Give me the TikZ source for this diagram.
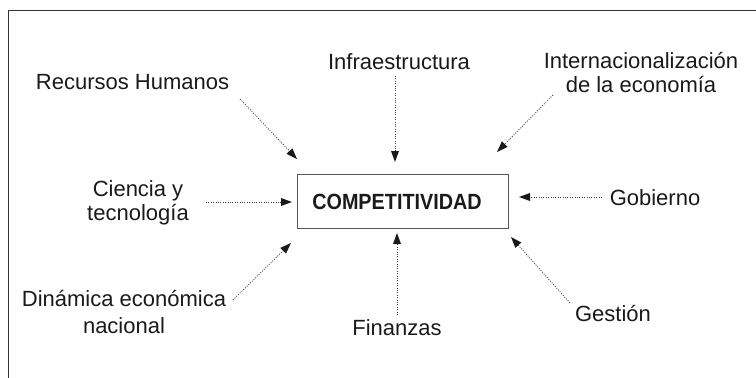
\documentclass[tikz,border=0pt]{standalone}
\usepackage{fontspec}
\usepackage{graphicx}
\setmainfont{Liberation Sans}
\usetikzlibrary{arrows.meta}
\definecolor{txt}{HTML}{1A1A1A}
\definecolor{frm}{HTML}{333333}
\tikzset{
  lbl/.style={font=\fontsize{22}{24}\selectfont, text=txt, align=center, inner sep=0pt},
  conn/.style={draw=black!75, line width=0.8pt, dash pattern=on 1pt off 1.4pt,
    -{Triangle[length=11pt,width=8pt,fill=black!90,line width=0pt]}},
  mainbox/.style={draw=black!65, line width=1pt, minimum width=211pt, minimum height=54pt, inner sep=0pt}
}
\begin{document}
\begin{tikzpicture}[x=1pt,y=-1pt]
\useasboundingbox (0,0) rectangle (756,378);
% frame
\draw[frm, line width=1pt] (8,378) -- (8,10) -- (756,10);
% central box
\node[mainbox] (comp) at (402.5,201) {};
\node[font=\fontsize{22}{24}\selectfont\bfseries, text=txt, inner sep=0pt, anchor=base] (comptext) at (397,209) {\scalebox{0.9}[1]{COMPETITIVIDAD}};
% labels (base anchor = baseline of last line)
\node[lbl, anchor=base] (rh) at (132.5,89) {Recursos Humanos};
\node[lbl, anchor=base] (inf) at (399,69) {Infraestructura};
\node[lbl, anchor=base] (int) at (641,92) {Internacionalización\\de la economía};
\node[lbl, anchor=base] (cyt) at (138,220) {Ciencia y\\tecnología};
\node[lbl, anchor=base] (gob) at (655,205) {Gobierno};
\node[lbl, anchor=base, font=\fontsize{22}{27}\selectfont] (din) at (124,333) {Dinámica económica\\nacional};
\node[lbl, anchor=base] (fin) at (397,335) {Finanzas};
\node[lbl, anchor=base] (ges) at (613,321) {Gestión};
% connector endpoints
\coordinate (rhA) at (240,99);  \coordinate (rhB) at (297,159);
\coordinate (infA) at (395,76); \coordinate (infB) at (395,162);
\coordinate (intA) at (553,95); \coordinate (intB) at (497,152);
\coordinate (cytA) at (206,202); \coordinate (cytB) at (292,202);
\coordinate (gobA) at (602,197); \coordinate (gobB) at (519,197);
\coordinate (dinA) at (233,300); \coordinate (dinB) at (291,243);
\coordinate (finA) at (397,315); \coordinate (finB) at (397,233);
\coordinate (gesA) at (570,303); \coordinate (gesB) at (511,237);
% connectors
\draw[conn] (rhA) -- (rhB);
\draw[conn] (infA) -- (infB);
\draw[conn] (intA) -- (intB);
\draw[conn] (cytA) -- (cytB);
\draw[conn] (gobA) -- (gobB);
\draw[conn] (dinA) -- (dinB);
\draw[conn] (finA) -- (finB);
\draw[conn] (gesA) -- (gesB);
\end{tikzpicture}
\end{document}
